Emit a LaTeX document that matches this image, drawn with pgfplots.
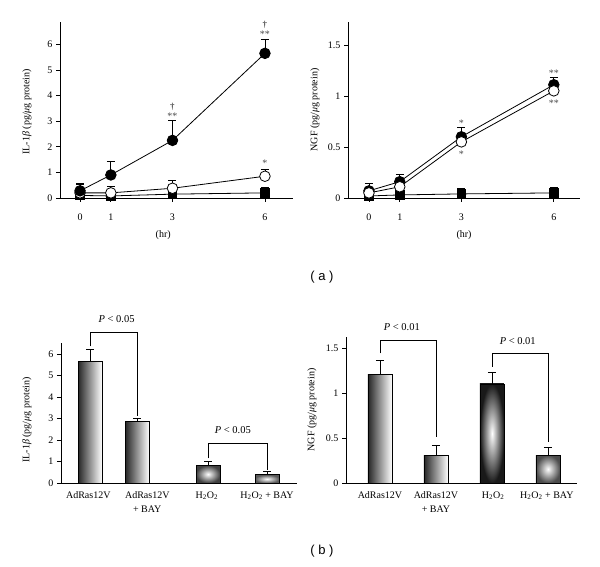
\documentclass[border=0pt]{standalone}
\usepackage{pgfplots}
\pgfplotsset{compat=1.18}
\usepackage{fontspec}
\setmainfont{Liberation Serif}
\setsansfont{Liberation Sans}
\tikzset{ptxt/.style={font=\fontsize{10.5}{12}\selectfont}}
\begin{document}
\begin{tikzpicture}
\path[use as bounding box] (0pt,0pt) rectangle (600pt,567pt);
\pgfplotsset{
  base/.style={
    scale only axis,
    axis x line*=bottom, axis y line*=left,
    tick align=outside,
    major tick length=4pt,
    axis line style={line width=0.8pt},
    every tick/.style={line width=0.8pt,black},
    tick label style={font=\fontsize{10}{11}\selectfont},
    label style={font=\fontsize{10}{12}\selectfont},
    /pgf/number format/assume math mode=true,
    clip=false,
  },
  errs/.style={error bars/.cd, y dir=plus, y explicit,
    error bar style={line width=0.8pt,black},
    error mark options={rotate=90,mark size=4pt,line width=0.8pt,black}},
  bb/.style={draw=black,line width=0.8pt,ybar,bar width=24pt,bar shift=0pt},
}
% ---------------- top left -----------------
\begin{axis}[base, at={(60pt,369pt)}, anchor=south west,
  width=233pt, height=176pt,
  xmin=-0.65, xmax=6.91, ymin=0, ymax=6.875,
  xtick={0,1,3,6}, ytick={0,1,2,3,4,5,6},
  xticklabel style={yshift=-8pt},
  xlabel={(hr)},
  xlabel style={at={(axis description cs:0.443,0)},anchor=center,yshift=-37pt},
  ylabel={IL-1\textit{β} (pg/\textit{μ}g protein)},
  ylabel style={at={(axis description cs:-0.142,0.49)},anchor=center},
]
\addplot[black,line width=0.8pt,mark=square*,mark size=4.3pt,mark options={fill=black},errs]
  coordinates {(0,0.1) +- (0,0.12) (1,0.08) +- (0,0.1) (3,0.15) +- (0,0.1) (6,0.2) +- (0,0.22)};
\addplot[black,line width=0.8pt,mark=*,mark size=5.3pt,mark options={fill=white},errs]
  coordinates {(0,0.2) +- (0,0.35) (1,0.2) +- (0,0.27) (3,0.38) +- (0,0.3) (6,0.85) +- (0,0.27)};
\addplot[black,line width=0.8pt,mark=*,mark size=5.3pt,mark options={fill=black},errs]
  coordinates {(0,0.28) +- (0,0.3) (1,0.9) +- (0,0.52) (3,2.25) +- (0,0.77) (6,5.65) +- (0,0.55)};
\node[font=\normalsize,text=black!70] at (axis cs:3,3.18) {**};
\node[font=\small] at (axis cs:3,3.57) {†};
\node[font=\normalsize,text=black!70] at (axis cs:6,6.38) {**};
\node[font=\small] at (axis cs:6,6.77) {†};
\node[font=\normalsize,text=black!70] at (axis cs:6,1.36) {*};
\end{axis}
% ---------------- top right -----------------
\begin{axis}[base, at={(348pt,369pt)}, anchor=south west,
  width=232pt, height=176pt,
  xmin=-0.68, xmax=6.85, ymin=0, ymax=1.725,
  xtick={0,1,3,6}, ytick={0,0.5,1,1.5},
  xticklabel style={yshift=-8pt},
  xlabel={(hr)},
  xlabel style={at={(axis description cs:0.5,0)},anchor=center,yshift=-37pt},
  ylabel={NGF (pg/\textit{μ}g protein)},
  ylabel style={at={(axis description cs:-0.142,0.5)},anchor=center},
]
\addplot[black,line width=0.8pt,mark=square*,mark size=4.3pt,mark options={fill=black},errs]
  coordinates {(0,0.02) +- (0,0.05) (1,0.03) +- (0,0.05) (3,0.04) +- (0,0.05) (6,0.05) +- (0,0.05)};
\addplot[black,line width=0.8pt,mark=*,mark size=5.3pt,mark options={fill=black},errs]
  coordinates {(0,0.07) +- (0,0.07) (1,0.16) +- (0,0.07) (3,0.6) +- (0,0.09) (6,1.11) +- (0,0.07)};
\addplot[black,line width=0.8pt,mark=*,mark size=5.3pt,mark options={fill=white}]
  coordinates {(0,0.05) (1,0.11) (3,0.55) (6,1.05)};
\node[font=\normalsize,text=black!70] at (axis cs:3,0.735) {*};
\node[font=\normalsize,text=black!70] at (axis cs:3,0.425) {*};
\node[font=\normalsize,text=black!70] at (axis cs:6,1.225) {**};
\node[font=\normalsize,text=black!70] at (axis cs:6,0.925) {**};
\end{axis}
\node[font=\sffamily\fontsize{13}{14}\selectfont] at (322pt,290pt) {( a )};
% ---------------- bottom left -----------------
\begin{axis}[base, at={(61pt,84pt)}, anchor=south west,
  width=236pt, height=140pt,
  xmin=0.508, xmax=4.508, ymin=0, ymax=6.51,
  xtick={0.97,1.97,2.98,4}, xtick style={draw=none},
  xticklabels={AdRas12V, AdRas12V\\+ BAY, H\textsubscript{2}O\textsubscript{2}, H\textsubscript{2}O\textsubscript{2} + BAY},
  xticklabel style={align=center,font=\fontsize{10}{14}\selectfont,yshift=-1pt},
  ytick={0,1,2,3,4,5,6},
  ylabel={IL-1\textit{β} (pg/\textit{μ}g protein)},
  ylabel style={at={(axis description cs:-0.144,0.45)},anchor=center},
]
\addplot[bb,left color=black!85,right color=white,errs]
  coordinates {(1,5.65) +- (0,0.55)};
\addplot[bb,left color=black!85,right color=white,errs]
  coordinates {(1.8,2.85) +- (0,0.15)};
\addplot[bb,inner color=white,outer color=black!75,errs]
  coordinates {(3,0.82) +- (0,0.2)};
\addplot[bb,inner color=white,outer color=black!65,errs]
  coordinates {(4,0.38) +- (0,0.14)};
\draw[line width=0.8pt] (axis cs:1,6.35) -- (axis cs:1,7.0) -- (axis cs:1.8,7.0) -- (axis cs:1.8,3.1);
\node[ptxt] at (axis cs:1.45,7.6) {\textit{P} < 0.05};
\draw[line width=0.8pt] (axis cs:3,1.15) -- (axis cs:3,1.86) -- (axis cs:4,1.86) -- (axis cs:4,0.6);
\node[ptxt] at (axis cs:3.42,2.45) {\textit{P} < 0.05};
\end{axis}
% ---------------- bottom right -----------------
\begin{axis}[base, at={(346pt,84pt)}, anchor=south west,
  width=231pt, height=146pt,
  xmin=0.393, xmax=4.518, ymin=0, ymax=1.622,
  xtick={1,2,3.02,3.98}, xtick style={draw=none},
  xticklabels={AdRas12V, AdRas12V\\+ BAY, H\textsubscript{2}O\textsubscript{2}, H\textsubscript{2}O\textsubscript{2} + BAY},
  xticklabel style={align=center,font=\fontsize{10}{14}\selectfont,yshift=-1pt},
  ytick={0,0.5,1,1.5},
  ylabel={NGF (pg/\textit{μ}g protein)},
  ylabel style={at={(axis description cs:-0.147,0.5)},anchor=center},
]
\addplot[bb,left color=black!85,right color=white,errs]
  coordinates {(1,1.21) +- (0,0.15)};
\addplot[bb,left color=black!85,right color=white,errs]
  coordinates {(2,0.31) +- (0,0.11)};
\addplot[bb,inner color=white,outer color=black!90,errs]
  coordinates {(3,1.1) +- (0,0.13)};
\addplot[bb,inner color=white,outer color=black!70,errs]
  coordinates {(4,0.31) +- (0,0.08)};
\draw[line width=0.8pt] (axis cs:1,1.44) -- (axis cs:1,1.58) -- (axis cs:2,1.58) -- (axis cs:2,0.51);
\node[ptxt] at (axis cs:1.39,1.73) {\textit{P} < 0.01};
\draw[line width=0.8pt] (axis cs:3,1.29) -- (axis cs:3,1.44) -- (axis cs:4,1.44) -- (axis cs:4,0.45);
\node[ptxt] at (axis cs:3.46,1.58) {\textit{P} < 0.01};
\end{axis}
\node[font=\sffamily\fontsize{13}{14}\selectfont] at (322pt,16pt) {( b )};
\end{tikzpicture}
\end{document}
